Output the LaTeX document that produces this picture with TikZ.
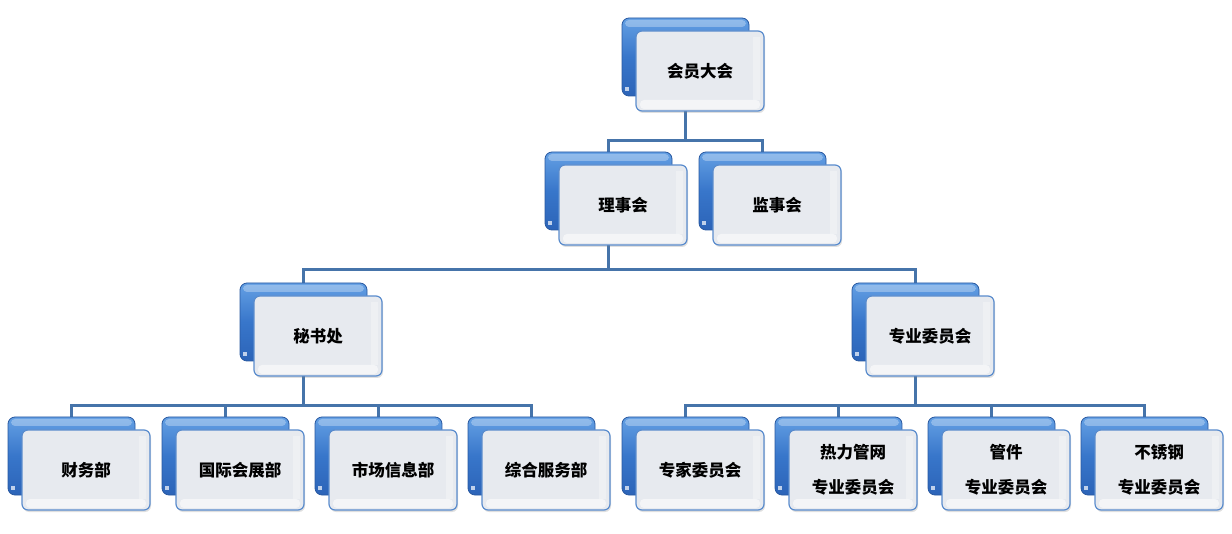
\documentclass[tikz,border=0pt]{standalone}
\usepackage{fontspec}
\newfontfamily\cjk{Noto Sans CJK SC}
\usetikzlibrary{shadows,calc}
\pgfdeclarelayer{bg}
\pgfsetlayers{bg,main}
\definecolor{linec}{RGB}{70,116,170}
\definecolor{blueT}{RGB}{100,160,228}
\definecolor{blueM}{RGB}{56,118,202}
\definecolor{blueB}{RGB}{44,100,184}
\definecolor{blueD}{RGB}{40,88,160}
\definecolor{frontF}{RGB}{231,234,239}
\definecolor{frontD}{RGB}{90,140,205}
\tikzset{
  backbox/.style={anchor=north west, minimum width=127pt, minimum height=78pt, inner sep=0pt, outer sep=0pt,
    rounded corners=7pt, draw=blueD, line width=0.8pt,
    top color=blueT, bottom color=blueB, middle color=blueM},
  frontbox/.style={anchor=north west, minimum width=128pt, minimum height=80pt, inner sep=0pt, outer sep=0pt,
    rounded corners=6pt, draw=frontD, line width=1.2pt, fill=frontF,
    drop shadow={opacity=0.25, shadow xshift=1pt, shadow yshift=-2pt}},
  labeltext/.style={font=\cjk\bfseries\fontsize{16.5}{35}\selectfont, align=center, text=black},
  conn/.style={draw=linec, line width=3pt},
}
\newcommand{\orgunit}[4]{%
  \node[backbox] (#1b) at (#2,#3) {};
  \fill[white, opacity=0.3, rounded corners=4pt] ($(#1b.north west)+(3pt,-2pt)$) rectangle ($(#1b.north east)+(-3pt,-9pt)$);
  \fill[white, opacity=0.7] ($(#1b.south west)+(3pt,5pt)$) rectangle ++(4pt,4pt);
  \node[frontbox] (#1f) at (#2+14,#3+13) {};
  \fill[white, opacity=0.55, rounded corners=4pt] ($(#1f.south west)+(4pt,2pt)$) rectangle ($(#1f.south east)+(-4pt,11pt)$);
  \fill[white, opacity=0.3] ($(#1f.north east)+(-11pt,-6pt)$) rectangle ($(#1f.south east)+(-4pt,11pt)$);
  \node[labeltext] (#1t) at (#1f.center) {#4};
}
\begin{document}
\begin{tikzpicture}[x=1pt,y=-1pt]
\useasboundingbox (0,0) rectangle (1232,534);
\orgunit{hy}{622}{18}{会员大会}
\orgunit{lsh}{545}{152}{理事会}
\orgunit{jsh}{699}{152}{监事会}
\orgunit{msc}{240}{283}{秘书处}
\orgunit{zy}{852}{283}{专业委员会}
\orgunit{cw}{8}{417}{财务部}
\orgunit{gj}{162}{417}{国际会展部}
\orgunit{sc}{315}{417}{市场信息部}
\orgunit{zh}{468}{417}{综合服务部}
\orgunit{zj}{622}{417}{专家委员会}
\orgunit{rl}{775}{417}{热力管网\\专业委员会}
\orgunit{gg}{928}{417}{管件\\专业委员会}
\orgunit{bx}{1081}{417}{不锈钢\\专业委员会}
\begin{pgfonlayer}{bg}
  \coordinate (h1) at ($(hyb.center |- hyf.south)+(0,-30pt)$);
  \draw[conn] (hyb.center |- hyf.south) -- (h1);
  \draw[conn] (lshb.north) |- (h1) -| (jshb.north);
  \coordinate (h2) at ($(lshb.center |- lshf.south)+(0,-25pt)$);
  \draw[conn] (lshb.center |- lshf.south) -- (h2);
  \draw[conn] (mscb.north) |- (h2) -| (zyb.north);
  \coordinate (h3) at ($(mscb.center |- mscf.south)+(0,-30pt)$);
  \draw[conn] (mscb.center |- mscf.south) -- (h3);
  \draw[conn] (cwb.north) |- (h3) -| (zhb.north);
  \draw[conn] (gjb.north) -- (gjb.north |- h3);
  \draw[conn] (scb.north) -- (scb.north |- h3);
  \coordinate (h4) at ($(zyb.center |- zyf.south)+(0,-30pt)$);
  \draw[conn] (zyb.center |- zyf.south) -- (h4);
  \draw[conn] (zjb.north) |- (h4) -| (bxb.north);
  \draw[conn] (rlb.north) -- (rlb.north |- h4);
  \draw[conn] (ggb.north) -- (ggb.north |- h4);
\end{pgfonlayer}
\end{tikzpicture}
\end{document}
